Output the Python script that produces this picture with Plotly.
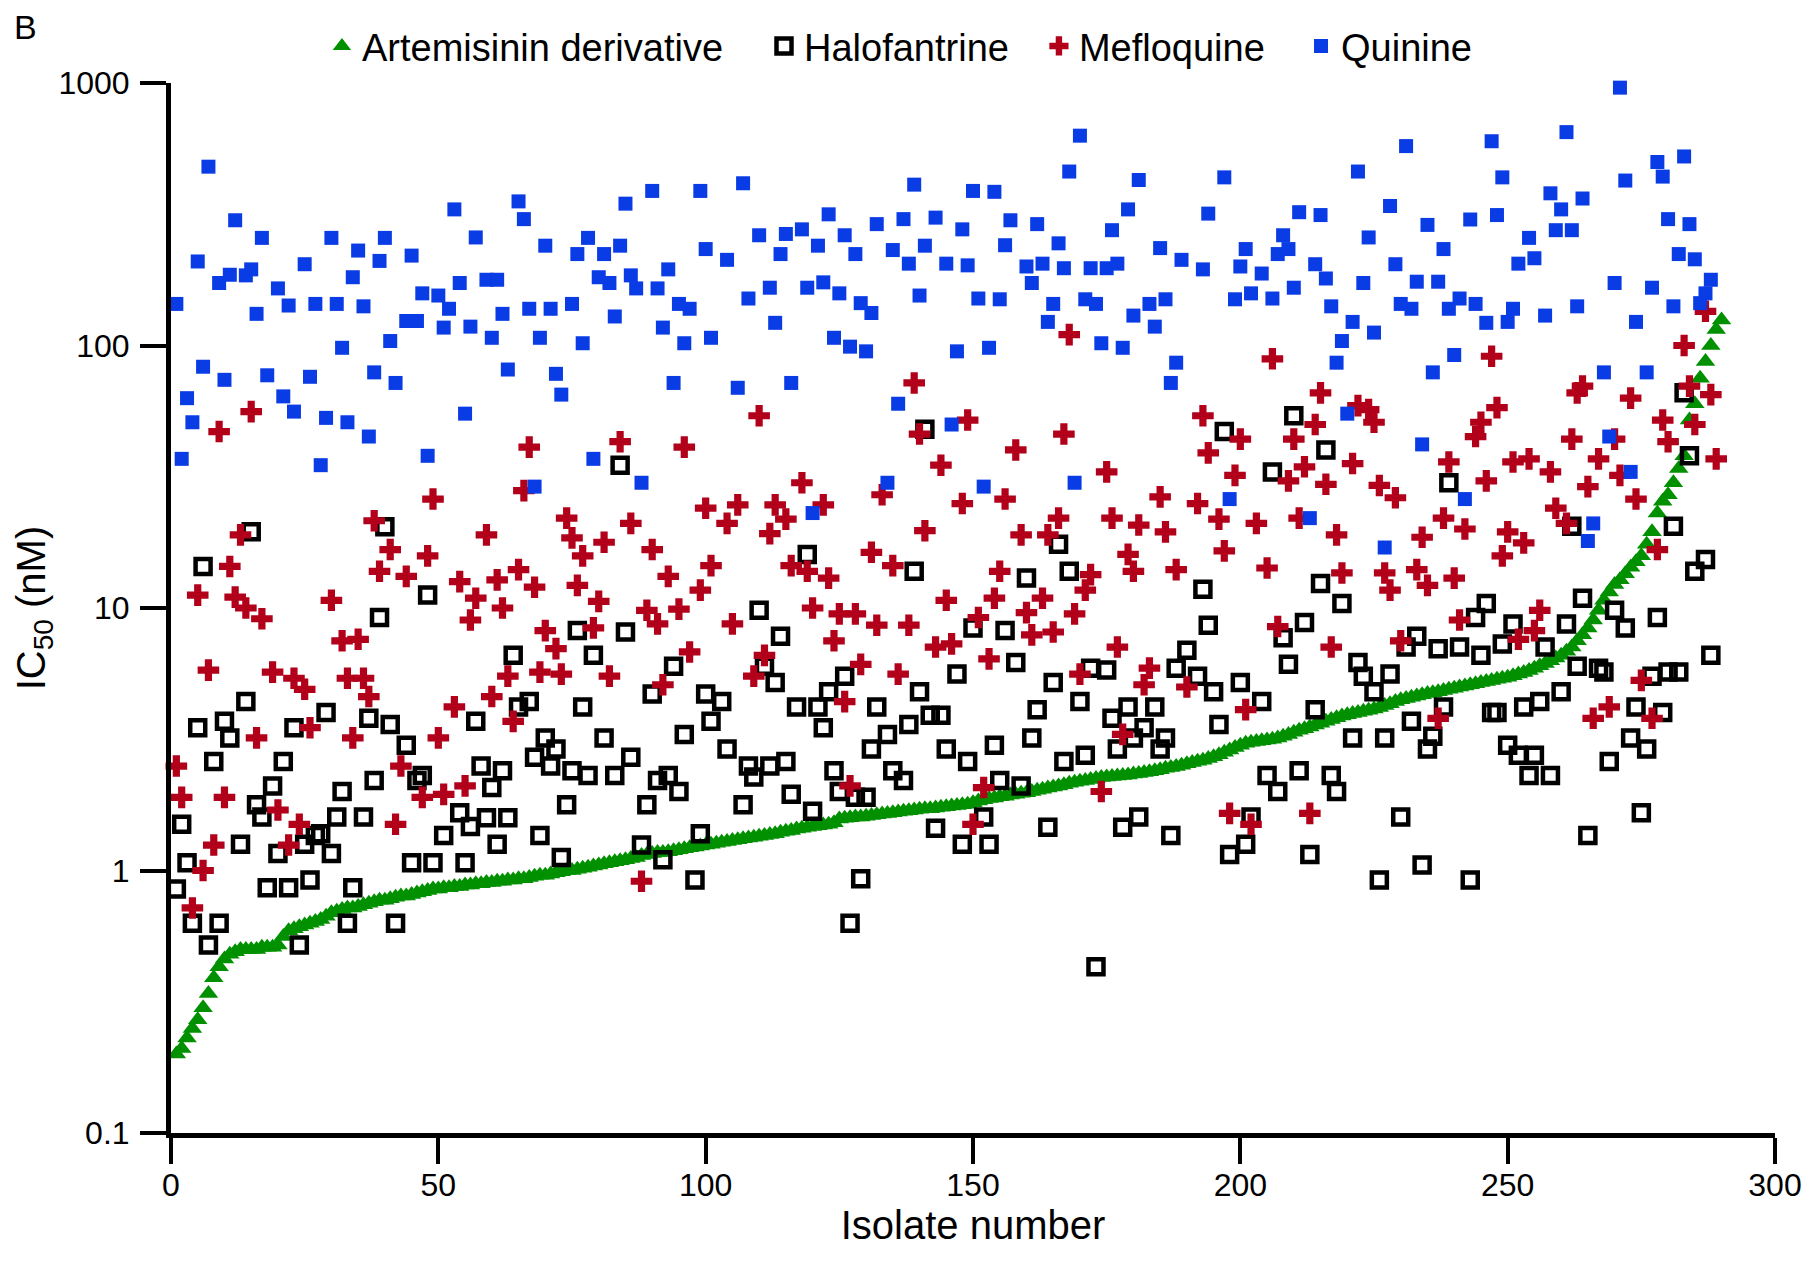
import plotly.graph_objects as go

# ---------------- data ----------------
artemisinin_ic50 = [
    0.20, 0.21, 0.23, 0.25, 0.27, 0.30, 0.34, 0.39, 0.43, 0.46,
    0.48, 0.49, 0.50, 0.50, 0.50, 0.50, 0.51, 0.51, 0.51, 0.52,
    0.56, 0.59, 0.60, 0.61, 0.62, 0.63, 0.64, 0.65, 0.67, 0.69,
    0.70, 0.71, 0.72, 0.72, 0.73, 0.74, 0.75, 0.76, 0.77, 0.77,
    0.78, 0.79, 0.80, 0.80, 0.81, 0.82, 0.83, 0.84, 0.85, 0.85,
    0.86, 0.86, 0.87, 0.87, 0.88, 0.88, 0.89, 0.89, 0.90, 0.90,
    0.91, 0.91, 0.92, 0.92, 0.93, 0.93, 0.94, 0.95, 0.96, 0.96,
    0.97, 0.98, 0.99, 1.00, 1.00, 1.01, 1.02, 1.03, 1.04, 1.05,
    1.06, 1.07, 1.08, 1.09, 1.10, 1.11, 1.12, 1.14, 1.15, 1.16,
    1.17, 1.17, 1.18, 1.19, 1.20, 1.21, 1.22, 1.23, 1.24, 1.25,
    1.26, 1.27, 1.28, 1.29, 1.30, 1.31, 1.32, 1.33, 1.34, 1.35,
    1.36, 1.37, 1.38, 1.40, 1.41, 1.42, 1.44, 1.45, 1.46, 1.47,
    1.48, 1.49, 1.50, 1.52, 1.57, 1.58, 1.59, 1.60, 1.60, 1.61,
    1.62, 1.63, 1.64, 1.65, 1.66, 1.67, 1.68, 1.69, 1.70, 1.71,
    1.72, 1.72, 1.73, 1.74, 1.75, 1.76, 1.77, 1.78, 1.79, 1.81,
    1.84, 1.86, 1.88, 1.89, 1.91, 1.92, 1.94, 1.95, 1.97, 1.98,
    2.00, 2.02, 2.04, 2.06, 2.08, 2.10, 2.12, 2.15, 2.17, 2.19,
    2.20, 2.22, 2.24, 2.26, 2.27, 2.28, 2.29, 2.30, 2.31, 2.33,
    2.34, 2.36, 2.38, 2.40, 2.42, 2.45, 2.47, 2.49, 2.52, 2.55,
    2.58, 2.61, 2.63, 2.67, 2.71, 2.76, 2.82, 2.88, 2.94, 3.00,
    3.05, 3.08, 3.10, 3.12, 3.14, 3.16, 3.20, 3.25, 3.30, 3.36,
    3.42, 3.47, 3.52, 3.58, 3.64, 3.70, 3.76, 3.82, 3.88, 3.92,
    3.96, 4.00, 4.04, 4.08, 4.12, 4.18, 4.25, 4.32, 4.40, 4.47,
    4.52, 4.57, 4.62, 4.67, 4.72, 4.76, 4.80, 4.85, 4.90, 4.95,
    5.00, 5.05, 5.10, 5.15, 5.20, 5.25, 5.30, 5.35, 5.40, 5.45,
    5.52, 5.60, 5.68, 5.78, 5.90, 6.02, 6.15, 6.30, 6.45, 6.60,
    6.85, 7.10, 7.50, 7.90, 8.40, 9.00, 9.80, 10.7, 11.5, 12.3,
    12.8, 13.5, 14.3, 15.0, 15.8, 17.5, 19.5, 23.0, 25.5, 27.0,
    30.0, 34.0, 38.0, 52.0, 60.0, 75.0, 87.0, 100.0, 115.0, 125.0,
]
artemisinin_isolate = list(range(1, len(artemisinin_ic50) + 1))

halofantrine_isolate = [
    1, 2, 3, 4, 5, 6, 7, 8, 9, 10, 11, 13, 14, 15, 16, 17, 18, 19, 20, 21,
    22, 23, 24, 25, 26, 27, 28, 29, 30, 31, 32, 33, 34, 36, 37, 38, 39, 40, 41, 42,
    44, 45, 46, 47, 48, 49, 51, 54, 55, 56, 57, 58, 59, 60, 61, 62, 63, 64, 65, 67,
    68, 69, 70, 71, 72, 73, 74, 75, 76, 77, 78, 79, 81, 83, 84, 85, 86, 88, 89, 90,
    91, 92, 93, 94, 95, 96, 98, 99, 100, 101, 103, 104, 107, 108, 109, 110, 111, 112, 113, 114,
    115, 116, 117, 119, 120, 121, 122, 123, 124, 125, 126, 127, 128, 129, 130, 131, 132, 134, 135, 137,
    138, 139, 140, 141, 142, 143, 144, 145, 147, 148, 149, 150, 152, 153, 154, 155, 156, 158, 159, 160,
    161, 162, 164, 165, 166, 167, 168, 170, 171, 172, 173, 175, 176, 177, 178, 179, 180, 181, 182, 184,
    185, 186, 187, 188, 190, 192, 193, 194, 195, 196, 197, 198, 200, 201, 202, 204, 205, 206, 207, 208,
    209, 210, 211, 212, 213, 214, 215, 216, 217, 218, 219, 221, 222, 223, 225, 226, 227, 228, 230, 231,
    232, 233, 234, 235, 236, 237, 238, 239, 241, 243, 244, 245, 246, 247, 248, 249, 250, 251, 252, 253,
    254, 255, 256, 257, 258, 260, 261, 262, 263, 264, 265, 267, 268, 269, 270, 272, 273, 274, 275, 276,
    277, 278, 279, 280, 281, 282, 283, 284, 285, 287, 288,
]
halofantrine_ic50 = [
    0.85, 1.5, 1.07, 0.63, 3.5, 14.4, 0.52, 2.6, 0.63, 3.7, 3.2, 1.26, 4.4, 19.5, 1.78, 1.6, 0.86, 2.1, 1.16, 2.6,
    0.86, 3.5, 0.52, 1.26, 0.92, 1.36, 1.38, 4.0, 1.16, 1.6, 2.0, 0.63, 0.86, 1.6, 3.8, 2.2, 9.2, 20.4, 3.6, 0.63,
    3.0, 1.07, 2.2, 2.3, 11.2, 1.07, 1.36, 1.66, 1.07, 1.47, 3.7, 2.5, 1.59, 2.07, 1.26, 2.4, 1.59, 6.6, 4.2, 4.4,
    2.7, 1.36, 3.2, 2.5, 2.9, 1.12, 1.78, 2.4, 8.2, 4.2, 2.3, 6.6, 3.2, 2.3, 35, 8.1, 2.7, 1.25, 1.78, 4.7,
    2.2, 1.1, 2.3, 6.0, 2.0, 3.3, 0.92, 1.38, 4.7, 3.7, 4.4, 2.9, 1.78, 2.5, 2.27, 9.8, 6.0, 2.5, 5.2, 7.8,
    2.6, 1.95, 4.2, 16, 1.68, 4.2, 3.5, 4.8, 2.4, 2.0, 5.5, 0.63, 1.9, 0.93, 1.9, 2.9, 4.2, 3.3, 2.4, 2.2,
    3.6, 13.8, 4.8, 48, 3.9, 1.45, 3.9, 2.9, 5.6, 1.26, 2.6, 8.4, 1.6, 1.26, 3.0, 2.2, 8.2, 6.2, 2.1, 13,
    3.2, 4.1, 1.46, 5.2, 17.5, 2.6, 13.8, 4.4, 2.75, 5.9, 0.43, 5.8, 3.8, 2.9, 1.46, 4.2, 3.2, 1.6, 3.5, 4.2,
    2.9, 3.2, 1.36, 5.9, 6.9, 5.5, 11.8, 8.6, 4.8, 3.6, 47, 1.15, 5.2, 1.26, 1.6, 4.4, 2.3, 33, 2.0, 7.7,
    6.1, 54, 2.4, 8.8, 1.15, 4.1, 12.4, 40, 2.3, 2.0, 10.4, 3.2, 6.2, 5.5, 4.8, 0.92, 3.2, 5.6, 1.6, 7.1,
    3.7, 7.8, 1.05, 2.9, 3.25, 7.0, 4.2, 30, 7.1, 0.92, 9.2, 6.6, 10.4, 4.0, 4.0, 7.3, 3.0, 8.7, 2.75, 4.2,
    2.3, 2.75, 4.4, 7.1, 2.3, 4.8, 8.7, 20.5, 6.0, 10.9, 1.36, 5.9, 5.7, 2.6, 9.8, 8.4, 3.2, 4.2, 1.66, 2.9,
    5.5, 9.2, 4.0, 5.7, 20.5, 5.7, 66, 38, 13.8, 15.3, 6.6,
]

mefloquine_isolate = [
    1, 2, 4, 5, 6, 7, 8, 9, 10, 11, 12, 13, 14, 15, 16, 17, 19, 20, 22, 23,
    24, 25, 26, 30, 32, 33, 34, 35, 36, 37, 38, 39, 41, 42, 43, 44, 47, 48, 49, 50,
    51, 53, 54, 55, 56, 57, 59, 60, 61, 62, 63, 64, 65, 66, 67, 68, 69, 70, 72, 73,
    74, 75, 76, 77, 79, 80, 81, 82, 84, 86, 88, 89, 90, 91, 92, 93, 95, 96, 97, 99,
    100, 101, 104, 105, 106, 109, 110, 111, 112, 113, 115, 116, 118, 119, 120, 122, 123, 124, 125, 126,
    127, 128, 129, 131, 132, 133, 135, 136, 138, 139, 140, 141, 143, 144, 145, 146, 148, 149, 150, 151,
    152, 153, 154, 155, 156, 158, 159, 160, 161, 163, 164, 165, 166, 167, 168, 169, 170, 171, 172, 174,
    175, 176, 177, 178, 179, 180, 181, 182, 183, 185, 186, 188, 190, 192, 193, 194, 196, 197, 198, 199,
    200, 201, 202, 203, 205, 206, 207, 209, 210, 211, 212, 213, 214, 215, 216, 217, 218, 219, 221, 222,
    224, 225, 226, 227, 228, 229, 230, 233, 234, 235, 237, 238, 239, 240, 241, 242, 244, 245, 246, 247,
    248, 249, 250, 251, 252, 253, 254, 255, 256, 258, 259, 261, 262, 263, 264, 265, 266, 267, 269, 270,
    271, 273, 274, 275, 277, 278, 279, 280, 283, 284, 285, 287, 288, 289,
]
mefloquine_ic50 = [
    2.5, 1.9, 0.72, 11.2, 1.0, 5.8, 1.25, 47, 1.9, 14.4, 11, 19, 10, 56, 3.2, 9.1, 5.7, 1.7, 1.25, 5.4,
    1.5, 4.9, 3.5, 10.7, 7.5, 5.4, 3.2, 7.6, 5.4, 4.6, 21.5, 13.8, 16.7, 1.5, 2.5, 13.2, 1.9, 15.8, 26, 3.2,
    1.95, 4.2, 12.6, 2.1, 9.0, 10.9, 19, 4.6, 12.8, 10, 5.5, 3.7, 14, 28, 41, 12, 5.7, 8.2, 7.0, 5.6,
    22, 18.5, 12.2, 15.8, 8.4, 10.6, 17.8, 5.5, 43, 21, 0.91, 9.8, 16.7, 8.7, 5.1, 13.2, 9.9, 41, 6.8, 11.7,
    24, 14.5, 21, 8.7, 24.7, 5.5, 54, 6.6, 19.2, 24.7, 21.8, 14.5, 30, 13.8, 10, 24.7, 13, 7.5, 9.5, 4.4,
    2.1, 9.5, 6.1, 16.3, 8.6, 27, 14.5, 5.6, 8.6, 72, 46, 19.7, 7.1, 35, 10.7, 7.3, 25, 52, 1.5, 9.2,
    2.07, 6.4, 10.9, 13.8, 26, 40, 19, 9.6, 7.9, 10.9, 19, 8.1, 22, 46, 110, 9.5, 5.6, 11.7, 13.4, 2.0,
    33, 22, 7.1, 3.3, 16, 13.8, 20.7, 5.1, 5.9, 26.5, 19.5, 14, 5.0, 25, 54, 39, 21.8, 16.5, 1.65, 32,
    44, 4.1, 1.5, 21, 14.2, 89, 8.5, 30.5, 44, 22, 34.5, 1.65, 50, 66, 29.6, 7.1, 19, 13.6, 35.5, 59,
    57, 51, 29.3, 13.6, 11.7, 26.3, 7.5, 14, 18.6, 12.2, 3.8, 22, 36, 13, 9.0, 20, 45, 51, 30.5, 91,
    58, 15.8, 19.5, 36, 7.6, 17.7, 37, 8.2, 9.8, 33, 24, 21, 44, 66, 70, 29, 3.8, 37, 4.2, 44,
    32, 63, 26, 5.3, 3.8, 16.7, 52, 43, 100, 70, 50, 135, 65, 37,
]

quinine_isolate = [
    1, 2, 3, 4, 5, 6, 7, 9, 10, 11, 12, 14, 15, 16, 17, 18, 20, 21, 22, 23,
    25, 26, 27, 28, 29, 30, 31, 32, 33, 34, 35, 36, 37, 38, 39, 40, 41, 42, 44, 45,
    46, 47, 48, 50, 51, 52, 53, 54, 55, 56, 57, 59, 60, 61, 62, 63, 65, 66, 67, 68,
    69, 70, 71, 72, 73, 75, 76, 77, 78, 79, 80, 81, 82, 83, 84, 85, 86, 87, 88, 90,
    91, 92, 93, 94, 95, 96, 97, 99, 100, 101, 104, 106, 107, 108, 110, 112, 113, 114, 115, 116,
    118, 119, 120, 121, 122, 123, 124, 125, 126, 127, 128, 129, 130, 131, 132, 134, 135, 136, 137, 138,
    139, 140, 141, 143, 145, 146, 147, 148, 149, 150, 151, 152, 153, 154, 155, 156, 157, 160, 161, 162,
    163, 164, 165, 166, 167, 168, 169, 170, 171, 172, 173, 174, 175, 176, 177, 178, 179, 180, 181, 183,
    184, 185, 186, 187, 188, 189, 193, 194, 197, 198, 199, 200, 201, 202, 204, 206, 207, 208, 209, 210,
    211, 213, 214, 215, 216, 217, 218, 219, 220, 221, 222, 223, 224, 225, 227, 228, 229, 230, 231, 232,
    233, 234, 235, 236, 237, 238, 239, 240, 241, 242, 243, 244, 246, 247, 248, 249, 250, 251, 252, 254,
    255, 257, 258, 259, 260, 261, 262, 263, 264, 265, 266, 268, 269, 270, 271, 272, 273, 274, 276, 277,
    278, 279, 280, 281, 282, 283, 284, 285, 286, 287, 288,
]
quinine_ic50 = [
    144, 37, 63, 51, 209, 83, 480, 173, 74, 186, 300, 185, 195, 132, 257, 77, 165, 64, 142, 56,
    204, 76, 144, 35, 53, 257, 144, 98, 51, 182, 230, 141, 45, 79, 210, 257, 104, 72, 124, 220,
    124, 158, 38, 155, 117, 138, 330, 173, 55, 118, 258, 178, 107, 178, 132, 81, 354, 303, 138, 29,
    107, 240, 138, 78, 65, 144, 223, 102, 257, 37, 182, 223, 173, 129, 240, 347, 185, 165, 30, 388,
    165, 117, 195, 72, 144, 102, 138, 388, 233, 107, 212, 69, 415, 151, 263, 166, 122, 223, 266, 72,
    277, 166, 23, 240, 174, 316, 107, 158, 263, 99, 223, 145, 95, 133, 290, 30, 231, 60, 303, 205,
    410, 155, 240, 307, 205, 50, 95, 277, 202, 388, 151, 29, 98, 385, 150, 241, 300, 200, 173, 290,
    205, 123, 144, 245, 197, 460, 30, 630, 150, 197, 144, 102, 197, 275, 205, 98, 330, 130, 427, 144,
    118, 235, 150, 72, 86, 212, 195, 318, 437, 26, 150, 200, 233, 158, 188, 151, 223, 263, 233, 166,
    322, 22, 204, 314, 180, 141, 86, 104, 55, 123, 460, 173, 258, 112, 17, 340, 204, 144, 575, 138,
    175, 42, 288, 79, 175, 233, 138, 92, 151, 26, 302, 144, 122, 600, 314, 437, 123, 138, 205, 257,
    215, 130, 380, 275, 330, 650, 275, 141, 363, 18, 21, 79, 45, 173, 960, 425, 33, 123, 79, 166,
    500, 440, 303, 141, 223, 525, 290, 213, 145, 158, 178,
]

x_ticks = [0, 50, 100, 150, 200, 250, 300]
y_ticks = [0.1, 1, 10, 100, 1000]
y_tick_labels = ["0.1", "1", "10", "100", "1000"]

# ---------------- figure ----------------
FONT = "Liberation Sans, Arial, sans-serif"

fig = go.Figure()
fig.add_trace(go.Scatter(
    x=artemisinin_isolate, y=artemisinin_ic50, mode="markers",
    name="Artemisinin derivative", cliponaxis=False, legend="legend",
    marker=dict(symbol="triangle-up", size=17, color="#009000", line=dict(width=0)),
))
fig.add_trace(go.Scatter(
    x=halofantrine_isolate, y=halofantrine_ic50, mode="markers",
    name="Halofantrine", cliponaxis=False, legend="legend2",
    marker=dict(symbol="square-open", size=15, color="#000000", line=dict(width=4.5, color="#000000")),
))
fig.add_trace(go.Scatter(
    x=mefloquine_isolate, y=mefloquine_ic50, mode="markers",
    name="Mefloquine", cliponaxis=False, legend="legend3",
    marker=dict(symbol="cross", size=18, color="#b3001a", line=dict(width=0)),
))
fig.add_trace(go.Scatter(
    x=quinine_isolate, y=quinine_ic50, mode="markers",
    name="Quinine", cliponaxis=False, legend="legend4",
    marker=dict(symbol="square", size=14, color="#0a3ce6", line=dict(width=0)),
))

# plot area in the browser: x 171..1775, y 83..1133 (page has an 8 px body margin)
def legend_box(xpos):
    return dict(
        orientation="h", x=xpos, xanchor="left", y=1.035, yanchor="middle",
        font=dict(size=38, family=FONT), bgcolor="rgba(0,0,0,0)",
        itemwidth=30, borderwidth=0,
    )

fig.update_layout(
    width=1805, height=1260,
    margin=dict(l=163, r=38, t=75, b=135, autoexpand=False),
    paper_bgcolor="white", plot_bgcolor="white",
    font=dict(family=FONT, color="black", size=30),
    showlegend=True,
    legend=legend_box(0.0941),
    legend2=legend_box(0.3697),
    legend3=legend_box(0.5411),
    legend4=legend_box(0.7045),
    xaxis=dict(
        range=[0, 300], tickmode="array", tickvals=x_ticks,
        ticktext=[str(v) for v in x_ticks],
        showgrid=False, zeroline=False, showline=True, linewidth=5, linecolor="black",
        ticks="outside", ticklen=26, tickwidth=4, tickcolor="black",
        tickfont=dict(size=32, family=FONT), ticklabelstandoff=-6,
        title=dict(text="Isolate number", font=dict(size=40, family=FONT), standoff=1),
    ),
    yaxis=dict(
        type="log", range=[-1, 3], tickmode="array", tickvals=y_ticks,
        ticktext=y_tick_labels,
        showgrid=False, zeroline=False, showline=True, linewidth=5, linecolor="black",
        ticks="outside", ticklen=26, tickwidth=4, tickcolor="black",
        tickfont=dict(size=32, family=FONT), ticklabelstandoff=4,
        title=dict(text="IC<sub>50</sub> (nM)", font=dict(size=40, family=FONT), standoff=2),
    ),
    annotations=[dict(
        text="B", xref="paper", yref="paper", x=-0.091, y=1.053,
        xanchor="center", yanchor="middle", showarrow=False,
        font=dict(size=34, family=FONT, color="black"),
    )],
)

fig.write_html("out.html")
